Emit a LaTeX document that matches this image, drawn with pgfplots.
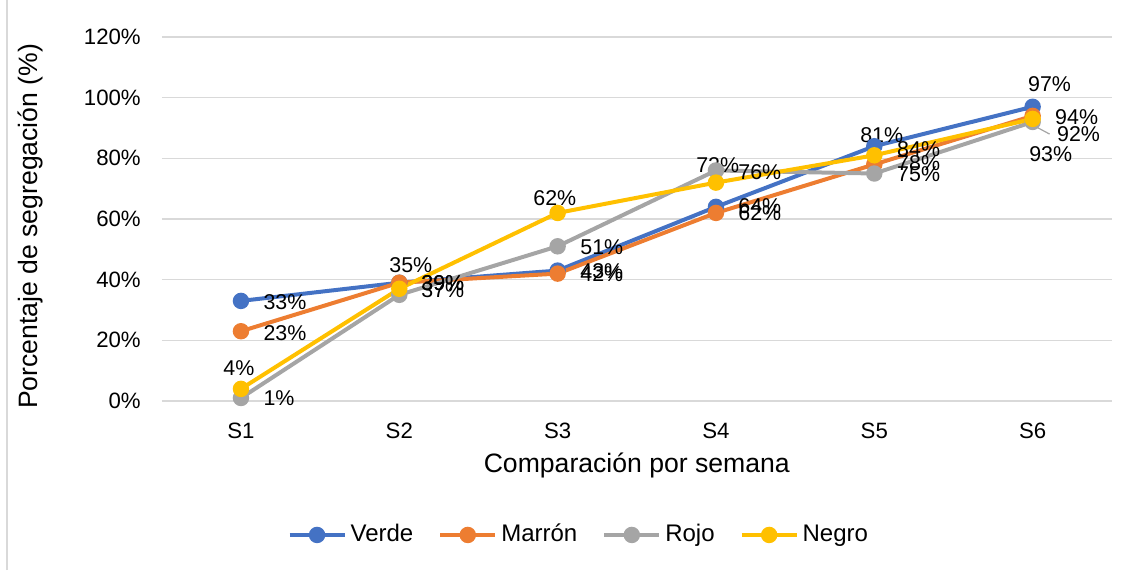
\documentclass[border=0pt]{standalone}
\usepackage{pgfplots}
\pgfplotsset{compat=1.18}
\usepackage{fontspec}
\setmainfont{Liberation Sans}
\definecolor{cBlue}{HTML}{4472C4}
\definecolor{cOrange}{HTML}{ED7D31}
\definecolor{cGray}{HTML}{A5A5A5}
\definecolor{cYellow}{HTML}{FFC000}
\definecolor{cGrid}{HTML}{D9D9D9}
\newcommand{\lab}[3]{\node[font=\fontsize{10.7}{12}\selectfont, inner sep=0pt] at (axis cs:#1,#2) {#3\%};}
\begin{document}
\begin{tikzpicture}
\useasboundingbox (0,0) rectangle (567pt,285pt);
\draw[cGrid, line width=0.8pt] (3.5pt,0pt) -- (3.5pt,285pt);
\begin{axis}[
  at={(80.9pt,84.5pt)}, anchor=south west,
  width=475pt, height=182pt, scale only axis,
  xmin=-0.5, xmax=5.5, ymin=0, ymax=120,
  xtick={0,1,2,3,4,5}, xticklabels={S1,S2,S3,S4,S5,S6},
  ytick={0,20,40,60,80,100,120},
  yticklabels={0\%,20\%,40\%,60\%,80\%,100\%,120\%},
  axis line style={draw=none},
  axis x line*=bottom,
  ymajorgrids, grid style={cGrid, line width=0.8pt},
  major tick length=0pt,
  tick label style={font=\fontsize{11.1}{13}\selectfont},
  yticklabel style={xshift=-7pt},
  xticklabel style={yshift=-7.5pt},
  xlabel={Comparación por semana},
  ylabel={Porcentaje de segregación (\%)},
  every axis x label/.style={at={(axis description cs:0.5,-0.176)}, anchor=center, font=\fontsize{13.3}{16}\selectfont},
  every axis y label/.style={at={(axis description cs:-0.1387,0.48)}, rotate=90, anchor=center, font=\fontsize{13.3}{16}\selectfont},
  clip=false,
  legend columns=4,
  legend style={draw=none, fill=none, at={(axis description cs:0.44,-0.368)}, anchor=center,
    font=\fontsize{12}{14}\selectfont,
    nodes={text height=1.75ex, text depth=0.5ex},
    /tikz/every even column/.append style={column sep=10.5pt}},
  legend image code/.code={
    \draw[mark repeat=2,mark phase=2,#1] plot coordinates {(0pt,0pt) (13.75pt,0pt) (27.5pt,0pt)};
  },
  every axis plot/.append style={line width=2pt, mark=*, mark size=3.1pt, mark options={solid}},
]
\draw[cGrid, line width=0.8pt] (axis cs:-0.5,0) -- (axis cs:5.5,0);
\addplot[cBlue, mark options={fill=cBlue}] coordinates {(0,33) (1,39) (2,43) (3,64) (4,84) (5,97)};
\addlegendentry{Verde}
\addplot[cOrange, mark options={fill=cOrange}] coordinates {(0,23) (1,39) (2,42) (3,62) (4,78) (5,94)};
\addlegendentry{Marrón}
\addplot[cGray, mark options={fill=cGray}] coordinates {(0,1) (1,35) (2,51) (3,76) (4,75) (5,92)};
\addlegendentry{Rojo}
\addplot[cYellow, mark options={fill=cYellow}] coordinates {(0,4) (1,37) (2,62) (3,72) (4,81) (5,93)};
\addlegendentry{Negro}
\draw[cGray, line width=0.6pt] (axis cs:5.025,90.3) -- (axis cs:5.107,88.0);
\lab{0.278}{32.6}{33}
\lab{0.278}{22.4}{23}
\lab{-0.013}{10.9}{4}
\lab{0.240}{1.0}{1}
\lab{1.073}{44.8}{35}
\lab{1.275}{38.9}{39}
\lab{1.275}{38.9}{39}
\lab{1.275}{36.6}{37}
\lab{1.982}{66.9}{62}
\lab{2.279}{50.8}{51}
\lab{2.279}{42.9}{43}
\lab{2.279}{41.9}{42}
\lab{3.011}{77.8}{72}
\lab{3.277}{75.5}{76}
\lab{3.277}{64.3}{64}
\lab{3.277}{62.0}{62}
\lab{4.047}{87.7}{81}
\lab{4.280}{83.1}{84}
\lab{4.280}{78.5}{78}
\lab{4.280}{74.8}{75}
\lab{5.107}{104.5}{97}
\lab{5.278}{93.6}{94}
\lab{5.290}{88.0}{92}
\lab{5.114}{81.4}{93}
\end{axis}
\end{tikzpicture}
\end{document}
